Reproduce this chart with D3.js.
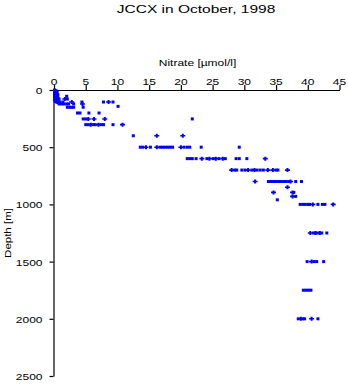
<!DOCTYPE html>
<html><head><meta charset="utf-8">
<script src="https://cdn.jsdelivr.net/npm/d3@7"></script>
<style>
html,body{margin:0;padding:0;background:#fff;}
svg{display:block;font-family:"Liberation Sans",Arial,Helvetica,sans-serif;}
</style></head>
<body><svg id="c" width="348" height="384"></svg>
<script>
const title = "JCCX in October, 1998";
const xLabel = "Nitrate [\u00b5mol/l]";
const yLabel = "Depth [m]";
const xTicks = [0,5,10,15,20,25,30,35,40,45];
const yTicks = [0,500,1000,1500,2000,2500];

// [depth m, nitrate µmol/l] — square markers
const squarePoints = [
  [0,0.1],[5,0.2],[10,0.1],[10,0.4],[15,0.3],[20,0.2],[20,0.5],[25,0.1],[30,0.3],[35,0.2],
  [40,0.1],[40,0.6],[45,0.4],[50,0.2],[55,0.3],[60,0.1],[60,0.6],[65,0.5],[70,0.3],[75,0.2],
  [80,0.4],[80,0.7],[85,0.1],[90,0.3],[95,0.5],[100,0.2],[105,0.4],[110,0.6],
  [55,2.0],[79,0.8],[79,2.1],
  [105,0.9],[105,1.4],[105,7.8],[105,9.3],[105,4.4],
  [122,0.8],[122,1.2],[122,1.6],[122,2.0],[122,2.3],[122,3.1],
  [143,10.1],
  [151,2.1],[151,2.5],[151,2.8],[151,3.1],[151,4.6],
  [201,3.7],[201,4.1],[201,5.5],[201,7.1],
  [253,4.6],[253,5.0],[253,21.8],
  [303,5.0],[303,5.4],[303,6.2],[303,6.5],[303,7.4],[303,7.8],[303,9.3],
  [400,12.5],
  [500,13.6],[500,14.0],[500,15.2],[500,16.7],[500,17.1],[500,17.5],[500,17.9],[500,18.3],[500,18.7],
  [500,20.5],[500,21.0],[500,21.4],[500,23.2],[500,29.2],
  [600,21.0],[600,21.4],[600,21.8],[600,22.4],[600,24.1],[600,25.1],[600,26.0],[600,27.0],[600,28.7],[600,29.2],[600,30.4],
  [700,28.5],[700,28.8],[700,29.6],[700,30.1],[700,31.2],[700,32.0],[700,32.5],[700,33.0],[700,35.0],[700,35.3],
  [800,33.8],[800,34.2],[800,34.6],[800,35.0],[800,35.4],[800,35.8],[800,36.2],[800,36.6],[800,37.0],[800,38.1],[800,39.0],
  [895,37.8],[930,38.1],[960,35.2],
  [1000,38.8],[1000,39.2],[1000,39.6],[1000,40.0],[1000,40.3],[1000,41.6],[1000,42.3],[1000,42.7],
  [1250,40.9],[1250,41.5],[1250,42.2],[1250,43.0],
  [1500,39.9],[1500,41.0],[1500,41.4],[1500,42.5],
  [1750,39.3],[1750,39.7],[1750,40.1],[1750,40.5],
  [2000,38.5],[2000,39.2],[2000,39.5],[2000,41.6]
];
// plus markers
const plusPoints = [
  [79,1.7],[105,2.8],[105,8.6],[122,4.5],
  [253,5.4],[253,6.3],[253,8.0],
  [303,5.8],[303,7.0],[303,10.8],
  [400,16.2],[400,20.3],
  [500,14.5],[500,16.2],[500,20.0],
  [600,23.3],[600,24.5],[600,25.5],[600,26.6],[600,33.3],
  [700,28.0],[700,30.6],[700,31.6],[700,33.7],[700,34.5],[700,36.8],
  [800,31.7],[800,37.3],
  [850,36.8],[895,34.6],[895,37.6],[930,37.6],
  [1000,40.8],[1000,44.0],
  [1250,40.4],[1250,41.2],[1250,41.9],
  [1500,40.6],
  [2000,38.9],[2000,40.6]
];

const svg = d3.select("#c");
const x = d3.scaleLinear().domain([0,45]).range([54,339.5]);
const y = d3.scaleLinear().domain([0,2500]).range([90,376]);
const col = "#0000ff";

function label(g, txt, px, py, size, anchor, sy, rot){
  const t = g.append("text")
    .attr("transform", `translate(${px},${py})` + (rot?` rotate(${rot})`:"") + ` scale(1,${sy})`)
    .attr("text-anchor", anchor)
    .attr("font-size", size)
    .attr("fill", "#000")
    .text(txt);
  return t;
}

// axes
const gx = svg.append("g").attr("transform","translate(0,90)")
  .call(d3.axisTop(x).tickValues(xTicks).tickSize(5).tickSizeOuter(0).tickFormat(""));
const gy = svg.append("g").attr("transform","translate(53.5,0)")
  .call(d3.axisLeft(y).tickValues(yTicks).tickSize(4).tickSizeOuter(0).tickFormat(""));
[gx,gy].forEach(g=>{
  g.selectAll("path.domain").attr("stroke","#000").attr("stroke-width",1.2);
  g.selectAll(".tick line").attr("stroke","#000").attr("stroke-width",1.2);
});

const lab = svg.append("g");
xTicks.forEach(v=> label(lab, String(v), x(v), 84.5, 12, "middle", 0.68));
yTicks.forEach(v=> label(lab, String(v), 42.5, y(v)+4, 12, "end", 0.68));
label(lab, xLabel, 197.5, 66, 12, "middle", 0.75);
label(lab, title, 196, 12.5, 15.5, "middle", 0.68);
label(lab, yLabel, 11, 233, 11.5, "middle", 0.85, -90);

// marks
const pts = svg.append("g");
pts.selectAll("rect.sq").data(squarePoints).join("rect")
  .attr("class","sq")
  .attr("x", d=>x(d[1])-1.5).attr("y", d=>y(d[0])-1.5)
  .attr("width",3).attr("height",3).attr("fill",col);
pts.selectAll("path.pl").data(plusPoints).join("path")
  .attr("class","pl")
  .attr("d", d=>{const cx=x(d[1]), cy=y(d[0]);
    return `M${cx-2.5},${cy-0.8}h5v1.6h-5z M${cx-1},${cy-2}h2v4h-2z`;})
  .attr("fill",col);
</script></body></html>
